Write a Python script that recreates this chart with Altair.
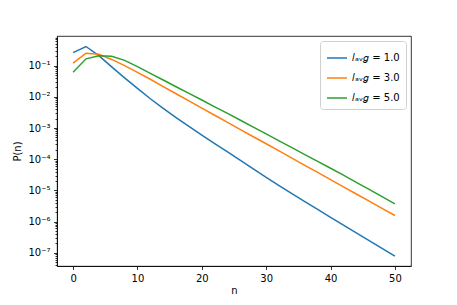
import altair as alt
import pandas as pd

n_vals = list(range(0, 51, 2))

labels = ["𝑙ₐᵥ𝑔 = 1.0", "𝑙ₐᵥ𝑔 = 3.0", "𝑙ₐᵥ𝑔 = 5.0"]

# log10 P(n), at n = 0, 2, ..., 50
log_p_1 = [-0.58, -0.385, -0.68, -1.04, -1.39, -1.73, -2.06, -2.37, -2.666,
           -2.95, -3.226, -3.498, -3.768, -4.038, -4.31, -4.584, -4.844, -5.102,
           -5.358, -5.612, -5.864, -6.114, -6.364, -6.612, -6.86, -7.108]
log_p_3 = [-0.92, -0.60, -0.635, -0.80, -1.00, -1.215, -1.435, -1.67, -1.90,
           -2.13, -2.36, -2.59, -2.82, -3.05, -3.28, -3.505, -3.735, -3.965,
           -4.195, -4.425, -4.655, -4.885, -5.115, -5.345, -5.575, -5.805]
log_p_5 = [-1.21, -0.78, -0.68, -0.70, -0.83, -1.03, -1.245, -1.46, -1.675,
           -1.89, -2.10, -2.32, -2.53, -2.75, -2.97, -3.19, -3.41, -3.63,
           -3.85, -4.07, -4.29, -4.51, -4.74, -4.97, -5.20, -5.43]

colors = ["#1f77b4", "#ff7f0e", "#2ca02c"]
x_ticks = [0, 10, 20, 30, 40, 50]
y_major = [1e-1, 1e-2, 1e-3, 1e-4, 1e-5, 1e-6, 1e-7]
y_minor = [m * 10.0 ** e for e in range(-8, 0) for m in range(2, 10)]
y_minor = [v for v in y_minor if 10 ** -7.425 <= v <= 10 ** -0.048]

rows = []
for lab, series in zip(labels, [log_p_1, log_p_3, log_p_5]):
    for n, lp in zip(n_vals, series):
        rows.append({"n": n, "P": 10 ** lp, "series": lab})
df = pd.DataFrame(rows)

font = "DejaVu Sans"
xscale = alt.Scale(domain=[-2.5, 52.5], nice=False, zero=False)
yscale = alt.Scale(type="log", domain=[10 ** -7.425, 10 ** -0.048], nice=False)
cscale = alt.Scale(domain=labels, range=colors)

sup = "['⁰','¹','²','³','⁴','⁵','⁶','⁷','⁸']"

x_axis = alt.Axis(values=x_ticks, format="d", tickSize=3.5, labelPadding=3.5,
                  titlePadding=2)
x_enc = alt.X("n:Q", scale=xscale, title="n", axis=x_axis)

lines = alt.Chart(df).mark_line(strokeWidth=1.5, clip=True).encode(
    x=x_enc,
    y=alt.Y("P:Q", scale=yscale, title="P(n)",
            axis=alt.Axis(values=y_major, tickSize=3.5, labelPadding=3.5,
                          labelExpr="'10⁻' + " + sup + "[round(-log(datum.value)/LN10)]",
                          titlePadding=5)),
    color=alt.Color("series:N", scale=cscale, sort=labels,
                    legend=alt.Legend(title=None, orient="top-right", offset=5,
                                      symbolType="stroke", symbolSize=400,
                                      symbolStrokeWidth=1.5, labelFontSize=10,
                                      labelFont=font, rowPadding=4, padding=6,
                                      fillColor="white", strokeColor="#d0d0d0",
                                      cornerRadius=3, labelLimit=200)),
)

minor = alt.Chart(df).mark_line(opacity=0).encode(
    x=x_enc,
    y=alt.Y("P:Q", scale=yscale,
            axis=alt.Axis(values=y_minor, tickSize=2, labels=False, domain=False,
                          orient="left", title=None)),
)

chart = alt.layer(lines, minor).resolve_axis(y="independent").properties(
    width=354, height=230,
    autosize=alt.AutoSizeParams(type="none"),
    padding={"left": 49, "top": 28, "right": 38, "bottom": 31},
).configure_view(stroke="black", strokeWidth=0.8).configure_axis(
    grid=False, domainColor="black", domainWidth=0.8, tickColor="black",
    tickWidth=0.8, labelFont=font, labelFontSize=10, labelColor="black",
    titleFont=font, titleFontSize=10, titleFontWeight="normal", titleColor="black",
)

chart.save("out.html", embed_options={"renderer": "svg", "actions": False})
